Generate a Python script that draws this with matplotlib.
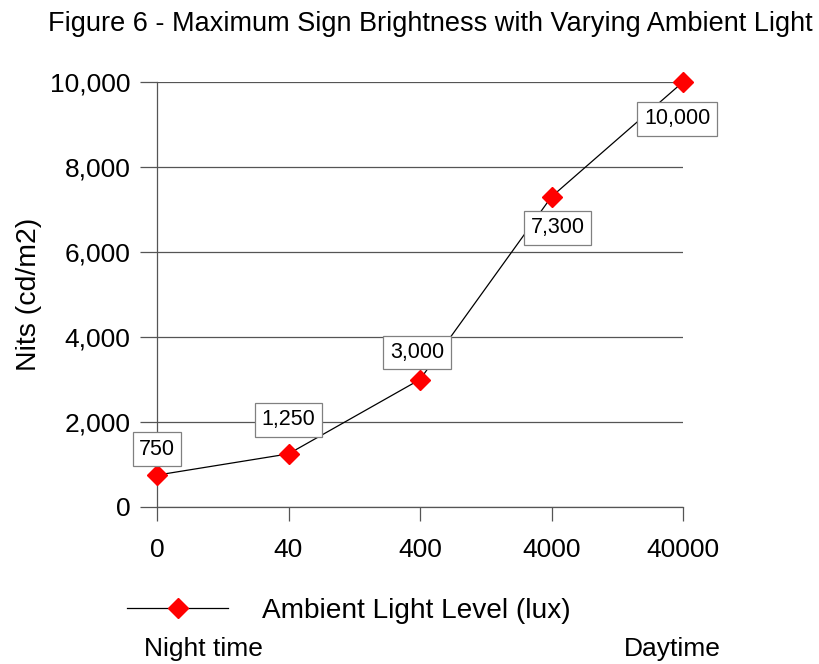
import matplotlib
matplotlib.use("Agg")
import matplotlib.pyplot as plt
from matplotlib.lines import Line2D

plt.rcParams['font.family'] = ['Liberation Sans', 'DejaVu Sans']

# Data
lux_labels = ['0', '40', '400', '4000', '40000']
nits = [750, 1250, 3000, 7300, 10000]
point_labels = ['750', '1,250', '3,000', '7,300', '10,000']
# label offsets in pixels (dx, dy)
label_offsets = [(0, 26), (0, 34), (-3, 27), (6, -31), (-6, -37)]

fig = plt.figure(figsize=(8.2, 6.64), dpi=100)
ax = fig.add_axes([157/820, 1 - 507/664, (683 - 157)/820, (507 - 82)/664])

x = list(range(len(lux_labels)))
ax.plot(x, nits, color='black', linewidth=0.9, marker='D', markersize=10,
        markerfacecolor='red', markeredgecolor='red', zorder=3, clip_on=False,
        label='Ambient Light Level (lux)')

for xi, yi, txt, off in zip(x, nits, point_labels, label_offsets):
    ax.annotate(txt, (xi, yi), xytext=off, textcoords='offset pixels',
                ha='center', va='center', fontsize=15.5, zorder=5,
                bbox=dict(boxstyle='square,pad=0.3', fc='white', ec='#808080', lw=0.9))

ax.set_xlim(0, 4)
ax.set_ylim(0, 10000)
ax.set_xticks(x)
ax.set_xticklabels(lux_labels)
ax.set_yticks(range(0, 10001, 2000))
ax.set_yticklabels([f'{v:,}' for v in range(0, 10001, 2000)])
ax.tick_params(axis='both', labelsize=19, color='#555555', width=0.9, direction='out')
ax.tick_params(axis='y', length=12, pad=7)
ax.tick_params(axis='x', length=10, pad=12)

ax.grid(axis='y', color='#555555', linewidth=0.9)
ax.set_axisbelow(True)
for s in ['top', 'right']:
    ax.spines[s].set_visible(False)
for s in ['left', 'bottom']:
    ax.spines[s].set_color('#555555')
    ax.spines[s].set_linewidth(0.9)

ax.set_ylabel('Nits (cd/m2)', fontsize=20.5, labelpad=6)
fig.text(430/820, 1 - 24/664, 'Figure 6 - Maximum Sign Brightness with Varying Ambient Light',
         ha='center', va='center', fontsize=19.5)

handle = Line2D([], [], color='black', linewidth=0.9, marker='D', markersize=10,
                markerfacecolor='red', markeredgecolor='red')
fig.legend([handle], ['Ambient Light Level (lux)'], loc='center left',
           bbox_to_anchor=(127/820, 1 - 611/664), frameon=False, fontsize=20.2,
           handlelength=3.6, handletextpad=1.2, borderaxespad=0, borderpad=0)

fig.text(203/820, 1 - 649/664, 'Night time', ha='center', va='center', fontsize=19)
fig.text(672/820, 1 - 649/664, 'Daytime', ha='center', va='center', fontsize=19)

fig.savefig('out.png', dpi=100)
